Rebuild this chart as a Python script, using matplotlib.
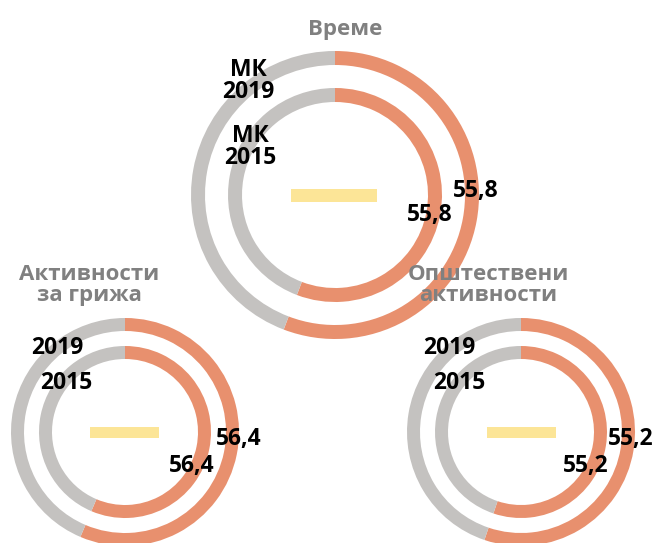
import matplotlib
matplotlib.use("Agg")
import matplotlib.pyplot as plt

plt.rcParams['font.family'] = ['Open Sans', 'DejaVu Sans']

# data
titles = ['Време', 'Активности\nза грижа', 'Општествени\nактивности']
vals_2019 = [55.8, 56.4, 55.2]
vals_2015 = [55.8, 56.4, 55.2]
labels_2019 = ['МК\n2019', '2019', '2019']
labels_2015 = ['МК\n2015', '2015', '2015']

ORANGE = '#E8906E'
GRAY = '#C4C2C0'
YELLOW = '#FCE597'
H = 543
FS = 16.5

# layout in pixels (x, y from top), outer radius, inner radius, ring width
centers = [(335, 195), (125, 432), (521, 432)]
r_out = [144, 114, 114]
r_in = [107, 86, 86]
ring_w = [14, 13, 13]


def fmt(v):
    return ('%.1f' % v).replace('.', ',')


fig = plt.figure(figsize=(6.56, 5.43), dpi=100)
ax = fig.add_axes([0, 0, 1, 1])

for i in range(3):
    cx, cy = centers[i]
    cy = H - cy
    for v, r in [(vals_2019[i], r_out[i]), (vals_2015[i], r_in[i])]:
        ax.pie([v, 100 - v], radius=r, center=(cx, cy), startangle=90,
               counterclock=False, colors=[ORANGE, GRAY],
               wedgeprops=dict(width=ring_w[i], edgecolor='none'))

# top panel texts
ax.text(345, H - 29, titles[0], ha='center', va='center', fontsize=16,
        fontweight='bold', color='#808080')
ax.text(248, H - 81, labels_2019[0], ha='center', va='center', fontsize=FS,
        fontweight='bold', linespacing=0.85)
ax.text(250, H - 147, labels_2015[0], ha='center', va='center', fontsize=FS,
        fontweight='bold', linespacing=0.85)
ax.text(476, H - 191, fmt(vals_2019[0]), ha='center', va='center',
        fontsize=FS, fontweight='bold')
ax.text(430, H - 215, fmt(vals_2015[0]), ha='center', va='center',
        fontsize=FS, fontweight='bold')
ax.barh(H - 195, 86, height=13, left=291, color=YELLOW)

# bottom panels
offs = [(0, 0), (396, 0)]
for k, i in enumerate([1, 2]):
    dx = offs[k][0]
    ax.text(89 + dx + (3 if i == 2 else 0), H - 285, titles[i], ha='center',
            va='center', fontsize=16, fontweight='bold', color='#808080',
            linespacing=0.95)
    ax.text(57 + dx - (4 if i == 2 else 0), H - 348, labels_2019[i],
            ha='center', va='center', fontsize=FS, fontweight='bold')
    ax.text(66 + dx - (3 if i == 2 else 0), H - 383, labels_2015[i],
            ha='center', va='center', fontsize=FS, fontweight='bold')
    ax.text(239 + dx - (4 if i == 2 else 0), H - 439, fmt(vals_2019[i]),
            ha='center', va='center', fontsize=FS, fontweight='bold')
    ax.text(192 + dx - (2 if i == 2 else 0), H - 466, fmt(vals_2015[i]),
            ha='center', va='center', fontsize=FS, fontweight='bold')
    ax.barh(H - 432, 69, height=11, left=90 + dx + (1 if i == 2 else 0),
            color=YELLOW)

ax.set_xlim(0, 656)
ax.set_ylim(0, H)
ax.set_aspect('equal')
ax.axis('off')

fig.savefig('out.png', dpi=100)
